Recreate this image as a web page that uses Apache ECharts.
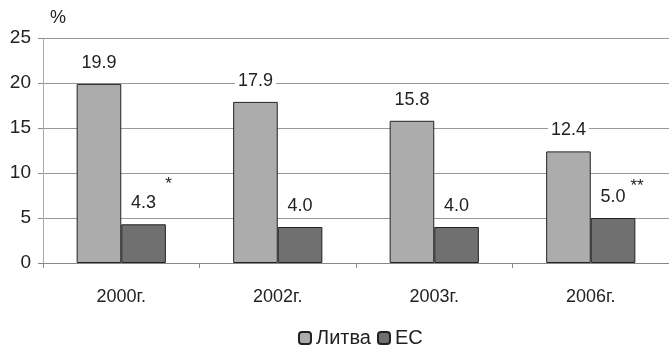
<!DOCTYPE html>
<html><head><meta charset="utf-8">
<script src="https://cdn.jsdelivr.net/npm/echarts@6/dist/echarts.min.js"></script>
<style>html,body{margin:0;padding:0;background:#fff}#c{width:669px;height:353px}</style>
</head><body><div id="c"></div>
<script>
const categories = ['2000г.', '2002г.', '2003г.', '2006г.'];
const litva = [19.9, 17.9, 15.8, 12.4];
const es = [4.3, 4.0, 4.0, 5.0];
const yTicks = [0, 5, 10, 15, 20, 25];
const notes = [{cat: '2000г.', val: 4.3, text: '*'}, {cat: '2006г.', val: 5.0, text: '**'}];

const chart = echarts.init(document.getElementById('c'));
const font = 'Liberation Sans, Arial, sans-serif';
const lbl = {show: true, position: 'top', distance: 11, fontSize: 18, color: '#222', fontFamily: font,
  formatter: p => p.value.toFixed(1), backgroundColor: '#fff', padding: [1, 3]};
chart.setOption({
  animation: false,
  backgroundColor: '#fff',
  grid: {left: 43, top: 38, width: 630, height: 225},
  legend: {bottom: 0, left: 293, itemWidth: 12, itemHeight: 12, itemGap: 6,
    textStyle: {fontSize: 20, color: '#222', fontFamily: font},
    data: ['Литва', 'ЕС']},
  xAxis: {type: 'category', data: categories,
    axisLine: {lineStyle: {color: '#888'}},
    axisTick: {show: true, length: 5, lineStyle: {color: '#888'}},
    axisLabel: {fontSize: 18, color: '#222', fontFamily: font, margin: 25}},
  yAxis: {type: 'value', min: yTicks[0], max: yTicks[yTicks.length - 1], interval: 5,
    name: '%', nameLocation: 'end', nameGap: 11, nameTextStyle: {fontSize: 18, color: '#222', fontFamily: font, align: 'left', padding: [0, 0, 0, 7]},
    axisLine: {show: true, lineStyle: {color: '#aaa'}},
    axisTick: {show: true, length: 5, lineStyle: {color: '#888'}},
    axisLabel: {fontSize: 19, color: '#222', fontFamily: font, margin: 12},
    splitLine: {lineStyle: {color: '#999'}}},
  series: [
    {name: 'Литва', type: 'bar', data: litva, barGap: '0%', barCategoryGap: '43%',
      itemStyle: {color: '#acacac', borderColor: '#222', borderWidth: 1}, label: lbl},
    {name: 'ЕС', type: 'bar', data: es,
      itemStyle: {color: '#707070', borderColor: '#222', borderWidth: 1}, label: lbl,
      markPoint: {symbol: 'circle', symbolSize: 0,
        label: {show: true, formatter: p => p.data.note, fontSize: 17, color: '#222', fontFamily: font},
        data: notes.map(n => ({coord: [n.cat, n.val], note: n.text,
          label: {offset: n.text.length > 1 ? [24, -32] : [25, -40]}}))}}
  ]
});
</script></body></html>
